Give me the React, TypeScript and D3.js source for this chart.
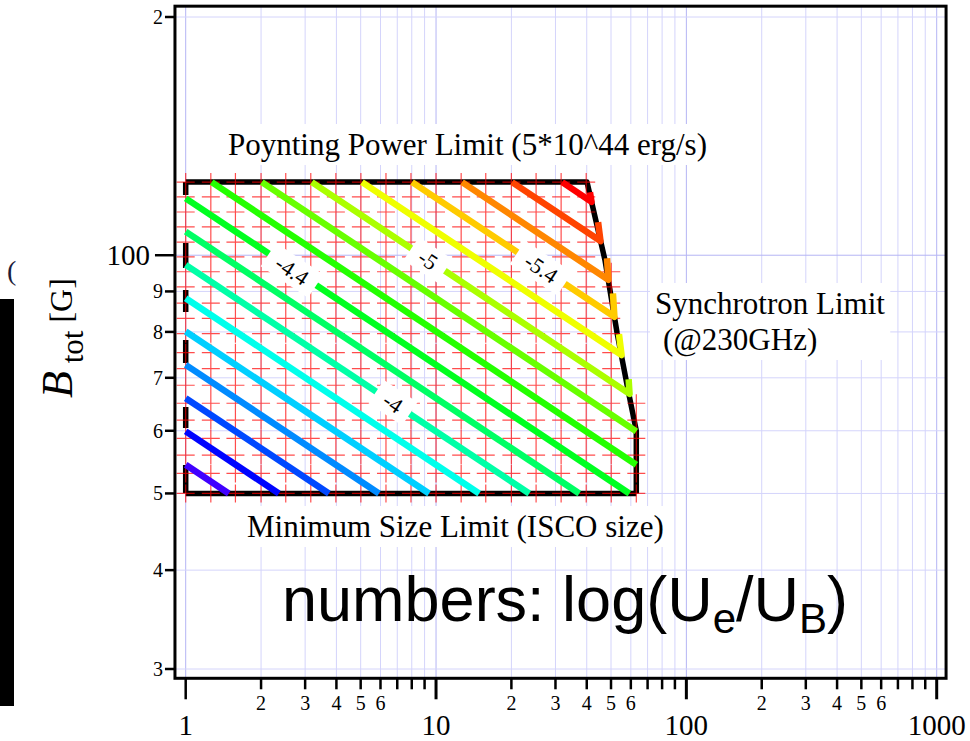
import React, { useEffect, useRef } from "react";
import * as d3 from "d3";

const W = 970;
const H = 741;

// Axis extents (size in units of r_g on x, total field in G on y)
const xExtent: [number, number] = [0.906, 1090];
const yExtent: [number, number] = [29.2, 206.4];

const xMajorTicks = [1, 10, 100, 1000];
const xDecades = [1, 10, 100];
const xMinorSteps = [2, 3, 4, 5, 6, 7, 8, 9];
const xMinorLabelled = [2, 3, 4, 5, 6];

const yTickValues = [30, 40, 50, 60, 70, 80, 90, 100, 200];
const yTickLabels = ["3", "4", "5", "6", "7", "8", "9", "100", "2"];
const yMajorTicks = [100];

// Contour levels of log(U_e/U_B) and their traced polylines [size, B]
const contourLevels = [
  -2.8, -3.0, -3.2, -3.4, -3.6, -3.8, -4.0, -4.2, -4.4,
  -4.6, -4.8, -5.0, -5.2, -5.4, -5.6, -5.8, -6.0,
];
const contourPaths: [number, number][][] = [
  [[1, 54.35], [1.486, 50]],
  [[1, 59.89], [2.355, 50]],
  [[1, 65.97], [3.733, 50]],
  [[1, 72.68], [5.917, 50]],
  [[1, 80.08], [9.38, 50]],
  [[1, 88.24], [14.87, 50]],
  [[1, 97.23], [23.57, 50]],
  [[1, 107.1], [37.35, 50]],
  [[1, 118.0], [59.2, 50]],
  [[1.27, 123.7], [63.1, 54.35]],
  [[2.014, 123.7], [63.1, 59.9]],
  [[3.19, 123.7], [59.3, 66.8], [58.8, 69.7]],
  [[5.06, 123.7], [55.1, 74.8], [53.8, 79.5]],
  [[8.02, 123.7], [51.6, 83.6], [50.9, 89.5]],
  [[12.7, 123.7], [48.8, 93.1], [48.2, 99.1]],
  [[20.1, 123.7], [45.4, 104.2], [44.4, 110.1]],
  [[31.9, 123.7], [41.8, 116.8], [41.2, 120.1]],
];

const contourLabelLevels = [-4.4, -5.0, -5.4, -4.0];
const contourLabelTexts = ["-4.4", "-5", "-5.4", "-4"];
const contourLabelPos: [number, number][] = [
  [2.66, 95.7],
  [9.29, 98.7],
  [26.3, 96.3],
  [6.73, 65.1],
];

// Allowed region: ISCO size (left), Poynting power (top), synchrotron (right), minimum field (bottom)
const regionBoundary: [number, number][] = [
  [1, 50],
  [1, 123.7],
  [40.1, 123.7],
  [47.3, 98.6],
  [52.9, 79.7],
  [58.5, 67.5],
  [63.1, 60],
  [63.1, 50],
];

// Sampling grid of the model
const sampleSizes = [
  1, 1.26, 1.58, 2, 2.51, 3.16, 3.98, 5.01, 6.31, 7.94, 10, 12.6, 15.8, 20,
  25.1, 31.6, 39.8, 50.1, 63.1,
];
const sampleFields = [
  50, 53, 55.9, 58.7, 61.9, 65, 68.5, 71.9, 75.3, 79.6, 83.2, 87, 91.2, 95.3,
  99.5, 103.9, 108.6, 113.4, 118.5, 123.7,
];

export default function App() {
  const ref = useRef<SVGSVGElement>(null);

  useEffect(() => {
    const svg = d3.select(ref.current as SVGSVGElement);
    svg.selectAll("*").remove();

    const x = d3.scaleLog().domain([1, 1000]).range([185.7, 936.7]);
    const y = d3.scaleLog().domain([30, 200]).range([669, 17]);
    const L = x(xExtent[0]);
    const R = x(xExtent[1]);
    const T = y(yExtent[1]);
    const B = y(yExtent[0]);

    const serif = "'Liberation Serif', 'Times New Roman', serif";
    const sans = "'Liberation Sans', Arial, sans-serif";

    svg.append("rect").attr("width", W).attr("height", H).attr("fill", "#fff");

    // edge remnants on the far left
    svg.append("rect").attr("x", 0).attr("y", 299).attr("width", 14).attr("height", 407).attr("fill", "#000");
    svg.append("text").attr("x", 7).attr("y", 280).attr("font-family", serif).attr("font-size", 28).attr("fill", "#1c1c3a").text("(");

    // light blue log grid
    const gGrid = svg.append("g");
    const xGridVals = [...xDecades.flatMap((d) => [1, ...xMinorSteps].map((m) => m * d)), 1000];
    gGrid.selectAll("line.vx").data(xGridVals).join("line")
      .attr("x1", (d) => x(d)).attr("x2", (d) => x(d))
      .attr("y1", T).attr("y2", B)
      .attr("stroke", (d) => (xMajorTicks.includes(d) ? "#b4b4f4" : "#d4d4fb"))
      .attr("stroke-width", 1);
    gGrid.selectAll("line.hy").data(yTickValues).join("line")
      .attr("x1", L).attr("x2", R)
      .attr("y1", (d) => y(d)).attr("y2", (d) => y(d))
      .attr("stroke", (d) => (yMajorTicks.includes(d) ? "#b4b4f4" : "#d4d4fb"))
      .attr("stroke-width", 1);

    const gBoxes = svg.append("g");
    const gBoundary = svg.append("g");
    const gRed = svg.append("g").attr("opacity", 0.7);
    const gContours = svg.append("g");
    const gLabels = svg.append("g");
    const gAxes = svg.append("g");
    const gText = svg.append("g");

    // region outline
    const pts = regionBoundary.map(([a, b]) => [x(a), y(b)] as [number, number]);
    const outline = d3.line();
    gBoundary.append("path")
      .attr("d", outline(pts.slice(1))!)
      .attr("fill", "none").attr("stroke", "#000").attr("stroke-width", 5.5)
      .attr("stroke-linejoin", "round");
    gBoundary.append("path")
      .attr("d", outline([pts[pts.length - 1], pts[0]])!)
      .attr("fill", "none").attr("stroke", "#000").attr("stroke-width", 5.5);
    gBoundary.append("path")
      .attr("d", outline([pts[1], pts[0]])!)
      .attr("fill", "none").attr("stroke", "#000").attr("stroke-width", 5.5)
      .attr("stroke-dasharray", "13 48 25 22 22 28 23 44 21 37 28");

    // sampling grid crosses inside the allowed region
    const sync = pts.slice(2, 7);
    const syncX = d3.scaleLinear().domain(sync.map((p) => p[1])).range(sync.map((p) => p[0])).clamp(true);
    const yTop = y(d3.max(sampleFields)!);
    const yBot = y(d3.min(sampleFields)!);
    const crosses: [number, number][] = [];
    sampleSizes.forEach((s) => {
      sampleFields.forEach((f) => {
        const px = x(s);
        const py = y(f);
        if (py >= yTop - 1 && py <= yBot + 1 && px <= syncX(py) + 6) crosses.push([px, py]);
      });
    });
    gRed.append("path")
      .attr("d", crosses.map(([px, py]) => `M${px - 9},${py}H${px + 9}M${px},${py - 9}V${py + 9}`).join(""))
      .attr("fill", "none").attr("stroke", "#ff0000").attr("stroke-width", 1.2);

    // contour lines
    const hue = d3.scaleLinear().domain([-6, -2.8]).range([0, 255]);
    const contourLine = d3.line<[number, number]>().x((d) => x(d[0])).y((d) => y(d[1]));
    contourPaths.forEach((p, i) => {
      gContours.append("path")
        .attr("d", contourLine(p)!)
        .attr("fill", "none")
        .attr("stroke", d3.hsl(hue(contourLevels[i]), 1, 0.5).formatHex())
        .attr("stroke-width", 6.5)
        .attr("stroke-linejoin", "round")
        .attr("stroke-linecap", "butt");
    });

    // inline contour labels
    contourLabelLevels.forEach((lev, i) => {
      const idx = contourLevels.indexOf(lev);
      const p = contourPaths[idx];
      const ang = (Math.atan2(y(p[1][1]) - y(p[0][1]), x(p[1][0]) - x(p[0][0])) * 180) / Math.PI;
      const [lx, ly] = contourLabelPos[i];
      const g = gLabels.append("g").attr("transform", `translate(${x(lx)},${y(ly)}) rotate(${ang})`);
      const rect = g.append("rect").attr("fill", "#fff");
      const t = g.append("text")
        .attr("text-anchor", "middle").attr("dy", "0.35em")
        .attr("font-family", serif).attr("font-size", 22).attr("fill", "#000")
        .text(contourLabelTexts[i]);
      const bb = (t.node() as SVGTextElement).getBBox();
      rect.attr("x", -bb.width / 2 - 11).attr("y", -14).attr("width", bb.width + 22).attr("height", 28);
    });

    // frame
    gAxes.append("rect")
      .attr("x", L).attr("y", T).attr("width", R - L).attr("height", B - T)
      .attr("fill", "none").attr("stroke", "#000").attr("stroke-width", 3);

    // x ticks
    const xMinorVals = xDecades.flatMap((d) => xMinorSteps.map((m) => m * d));
    gAxes.selectAll("line.xt").data(xMinorVals).join("line")
      .attr("x1", (d) => x(d)).attr("x2", (d) => x(d)).attr("y1", B).attr("y2", B + 11)
      .attr("stroke", "#000").attr("stroke-width", 2.5);
    gAxes.selectAll("line.xT").data(xMajorTicks).join("line")
      .attr("x1", (d) => x(d)).attr("x2", (d) => x(d)).attr("y1", B).attr("y2", B + 21)
      .attr("stroke", "#000").attr("stroke-width", (d) => (d === 1 ? 2.5 : 3));
    const xMinorLabVals = xDecades.flatMap((d) => xMinorLabelled.map((m) => ({ v: m * d, m })));
    gAxes.selectAll("text.xl").data(xMinorLabVals).join("text")
      .attr("x", (d) => x(d.v)).attr("y", 710)
      .attr("text-anchor", "middle").attr("font-family", serif).attr("font-size", 20)
      .text((d) => String(d.m));
    gAxes.selectAll("text.xL").data(xMajorTicks).join("text")
      .attr("x", (d) => x(d)).attr("y", 735)
      .attr("text-anchor", "middle").attr("font-family", serif).attr("font-size", 29)
      .text((d) => String(d));

    // y ticks
    yTickValues.forEach((v, i) => {
      const major = yMajorTicks.includes(v);
      gAxes.append("line")
        .attr("x1", L - (major ? 20 : 10)).attr("x2", L)
        .attr("y1", y(v)).attr("y2", y(v))
        .attr("stroke", "#000").attr("stroke-width", 2.5);
      gAxes.append("text")
        .attr("x", L - (major ? 25 : 12)).attr("y", y(v) + (major ? 10 : 7))
        .attr("text-anchor", "end").attr("font-family", serif).attr("font-size", major ? 29 : 20)
        .text(yTickLabels[i]);
    });

    // y axis title
    const yt = gAxes.append("text")
      .attr("transform", "translate(72,338) rotate(-90)")
      .attr("text-anchor", "middle").attr("font-family", serif).attr("fill", "#000");
    yt.append("tspan").attr("font-style", "italic").attr("font-size", 44).text("B");
    yt.append("tspan").attr("font-size", 31).attr("dy", 11).text(" tot");
    yt.append("tspan").attr("font-size", 32).attr("dy", -11).text(" [G]");

    // annotations with white backing boxes
    const boxed = (lines: { text: string; x: number; y: number }[]) => {
      const nodes = lines.map((l) =>
        gText.append("text")
          .attr("x", l.x).attr("y", l.y)
          .attr("font-family", serif).attr("font-size", 31).attr("fill", "#000")
          .text(l.text)
      );
      const boxes = nodes.map((n) => (n.node() as SVGTextElement).getBBox());
      const x0 = d3.min(boxes, (b) => b.x)! - 5;
      const y0 = d3.min(boxes, (b) => b.y)! - 3;
      const x1 = d3.max(boxes, (b) => b.x + b.width)! + 5;
      const y1 = d3.max(boxes, (b) => b.y + b.height)! + 3;
      gBoxes.append("rect").attr("x", x0).attr("y", y0).attr("width", x1 - x0).attr("height", y1 - y0).attr("fill", "#fff");
    };
    boxed([{ text: "Poynting Power Limit (5*10^44 erg/s)", x: 228, y: 155 }]);
    boxed([
      { text: "Synchrotron Limit", x: 655, y: 314 },
      { text: "(@230GHz)", x: 663, y: 350 },
    ]);
    boxed([{ text: "Minimum Size Limit (ISCO size)", x: 247, y: 537 }]);

    const nt = gText.append("text")
      .attr("x", 282).attr("y", 621)
      .attr("font-family", sans).attr("font-size", 63).attr("fill", "#000");
    nt.append("tspan").text("numbers: log(U");
    nt.append("tspan").attr("font-size", 42).attr("dy", 12).text("e");
    nt.append("tspan").attr("dy", -12).text("/U");
    nt.append("tspan").attr("font-size", 42).attr("dy", 12).text("B");
    nt.append("tspan").attr("dy", -12).text(")");
  }, []);

  return (
    <svg
      ref={ref}
      width={W}
      height={H}
      style={{ position: "absolute", left: 0, top: 0, display: "block" }}
    />
  );
}
